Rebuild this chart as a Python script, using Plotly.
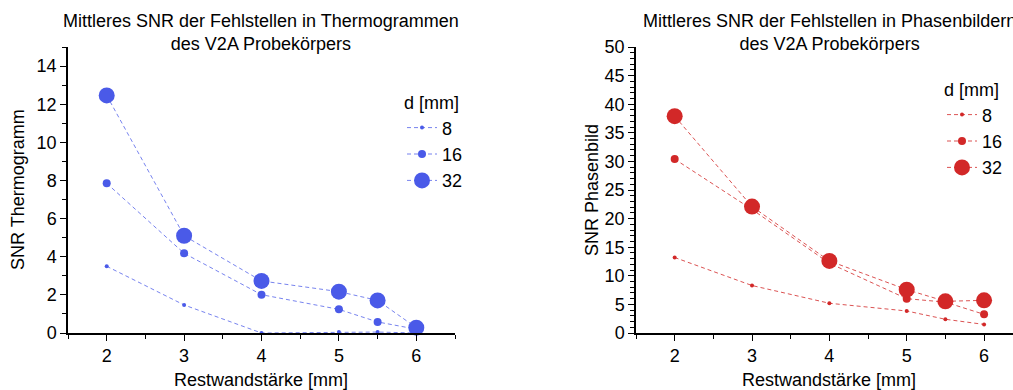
import plotly.graph_objects as go

restwand = [2, 3, 4, 5, 5.5, 6]
diameters = ["8", "16", "32"]

snr_thermo_8 = [3.5, 1.47, 0.0, 0.05, 0.05, 0.0]
snr_thermo_16 = [7.85, 4.18, 2.01, 1.24, 0.58, 0.2]
snr_thermo_32 = [12.46, 5.1, 2.73, 2.17, 1.71, 0.28]

snr_phase_8 = [13.2, 8.3, 5.2, 3.85, 2.4, 1.5]
snr_phase_16 = [30.4, 21.6, 12.2, 6.0, 5.4, 3.26]
snr_phase_32 = [37.9, 22.1, 12.6, 7.58, 5.54, 5.71]

marker_sizes = [4, 8, 16]

blue = "rgb(74,90,232)"
blue_line = "rgba(74,90,232,0.75)"
red = "rgb(210,40,40)"
red_line = "rgba(210,40,40,0.8)"

FONT = "Liberation Sans, Arial, sans-serif"

fig = go.Figure()

thermo = [snr_thermo_8, snr_thermo_16, snr_thermo_32]
phase = [snr_phase_8, snr_phase_16, snr_phase_32]

for d, ys, ms in zip(diameters, thermo, marker_sizes):
    fig.add_trace(go.Scatter(
        x=restwand, y=ys, mode="lines+markers", name=d,
        line=dict(color=blue_line, width=1, dash="4px,3px"),
        marker=dict(color=blue, size=ms),
        xaxis="x", yaxis="y", legend="legend", cliponaxis=False,
    ))

for d, ys, ms in zip(diameters, phase, marker_sizes):
    fig.add_trace(go.Scatter(
        x=restwand, y=ys, mode="lines+markers", name=d,
        line=dict(color=red_line, width=1, dash="4px,3px"),
        marker=dict(color=red, size=ms),
        xaxis="x2", yaxis="y2", legend="legend2", cliponaxis=False,
    ))

W, H = 1013, 390
def px(x):
    return x / W
def py(y):
    return 1 - y / H

axis_common = dict(
    showline=True, linecolor="black", linewidth=1.5,
    ticks="outside", ticklen=6, tickwidth=1.2, tickcolor="black",
    showgrid=False, zeroline=False, automargin=False,
    tickfont=dict(family=FONT, size=18, color="black"),
)

xdom1 = [px(68), px(455)]
xdom2 = [px(636), 1.0]
ydom = [py(333), py(47)]

fig.update_layout(
    width=W, height=H,
    margin=dict(l=0, r=0, t=0, b=0, autoexpand=False),
    paper_bgcolor="white", plot_bgcolor="white",
    font=dict(family=FONT, size=18, color="black"),
    xaxis=dict(domain=xdom1, range=[1.5, 6.5], tickvals=[2, 3, 4, 5, 6],
               minor=dict(tickvals=[1.5, 2.5, 3.5, 4.5, 5.5, 6.5], ticks="outside", ticklen=4, tickcolor="black"),
               anchor="y", **axis_common),
    yaxis=dict(domain=ydom, range=[0, 15], tickvals=[0, 2, 4, 6, 8, 10, 12, 14],
               minor=dict(dtick=1, ticks="outside", ticklen=4, tickcolor="black"),
               anchor="x", **axis_common),
    xaxis2=dict(domain=xdom2, range=[1.5, 2 + (1013 - 674) / 77.5], tickvals=[2, 3, 4, 5, 6],
                minor=dict(tickvals=[1.5, 2.5, 3.5, 4.5, 5.5, 6.5], ticks="outside", ticklen=4, tickcolor="black"),
                anchor="y2", **axis_common),
    yaxis2=dict(domain=ydom, range=[0, 50], tickvals=list(range(0, 51, 5)),
                minor=dict(dtick=1, ticks="outside", ticklen=4, tickcolor="black"),
                anchor="x2", **axis_common),
    legend=dict(x=px(402), y=py(86), xanchor="left", yanchor="top",
                bgcolor="rgba(0,0,0,0)", font=dict(family=FONT, size=18),
                title=dict(text="d [mm]", font=dict(family=FONT, size=18), side="top"),
                itemsizing="trace", tracegroupgap=0),
    legend2=dict(x=px(942), y=py(73), xanchor="left", yanchor="top",
                 bgcolor="rgba(0,0,0,0)", font=dict(family=FONT, size=18),
                 title=dict(text="d [mm]", font=dict(family=FONT, size=18), side="top"),
                 itemsizing="trace", tracegroupgap=0),
)

ann = [
    dict(text="Mittleres SNR der Fehlstellen in Thermogrammen<br>des V2A Probekörpers",
         x=px(261), y=py(32), size=18),
    dict(text="Mittleres SNR der Fehlstellen in Phasenbildern<br>des V2A Probekörpers",
         x=px(829), y=py(32), size=18),
    dict(text="Restwandstärke [mm]", x=px(261), y=py(380), size=18),
    dict(text="Restwandstärke [mm]", x=px(829), y=py(380), size=18),
]
for a in ann:
    fig.add_annotation(text=a["text"], x=a["x"], y=a["y"], xref="paper", yref="paper",
                       xanchor="center", yanchor="middle", showarrow=False,
                       font=dict(family=FONT, size=a["size"], color="black"))

fig.add_annotation(text="SNR Thermogramm", x=px(18), y=py(190), xref="paper", yref="paper",
                   textangle=-90, showarrow=False, xanchor="center", yanchor="middle",
                   font=dict(family=FONT, size=18, color="black"))
fig.add_annotation(text="SNR Phasenbild", x=px(592), y=py(190), xref="paper", yref="paper",
                   textangle=-90, showarrow=False, xanchor="center", yanchor="middle",
                   font=dict(family=FONT, size=18, color="black"))

fig.write_html("out.html", config={"displayModeBar": False},
               post_script="document.body.style.margin='0';document.body.style.overflow='hidden';")
